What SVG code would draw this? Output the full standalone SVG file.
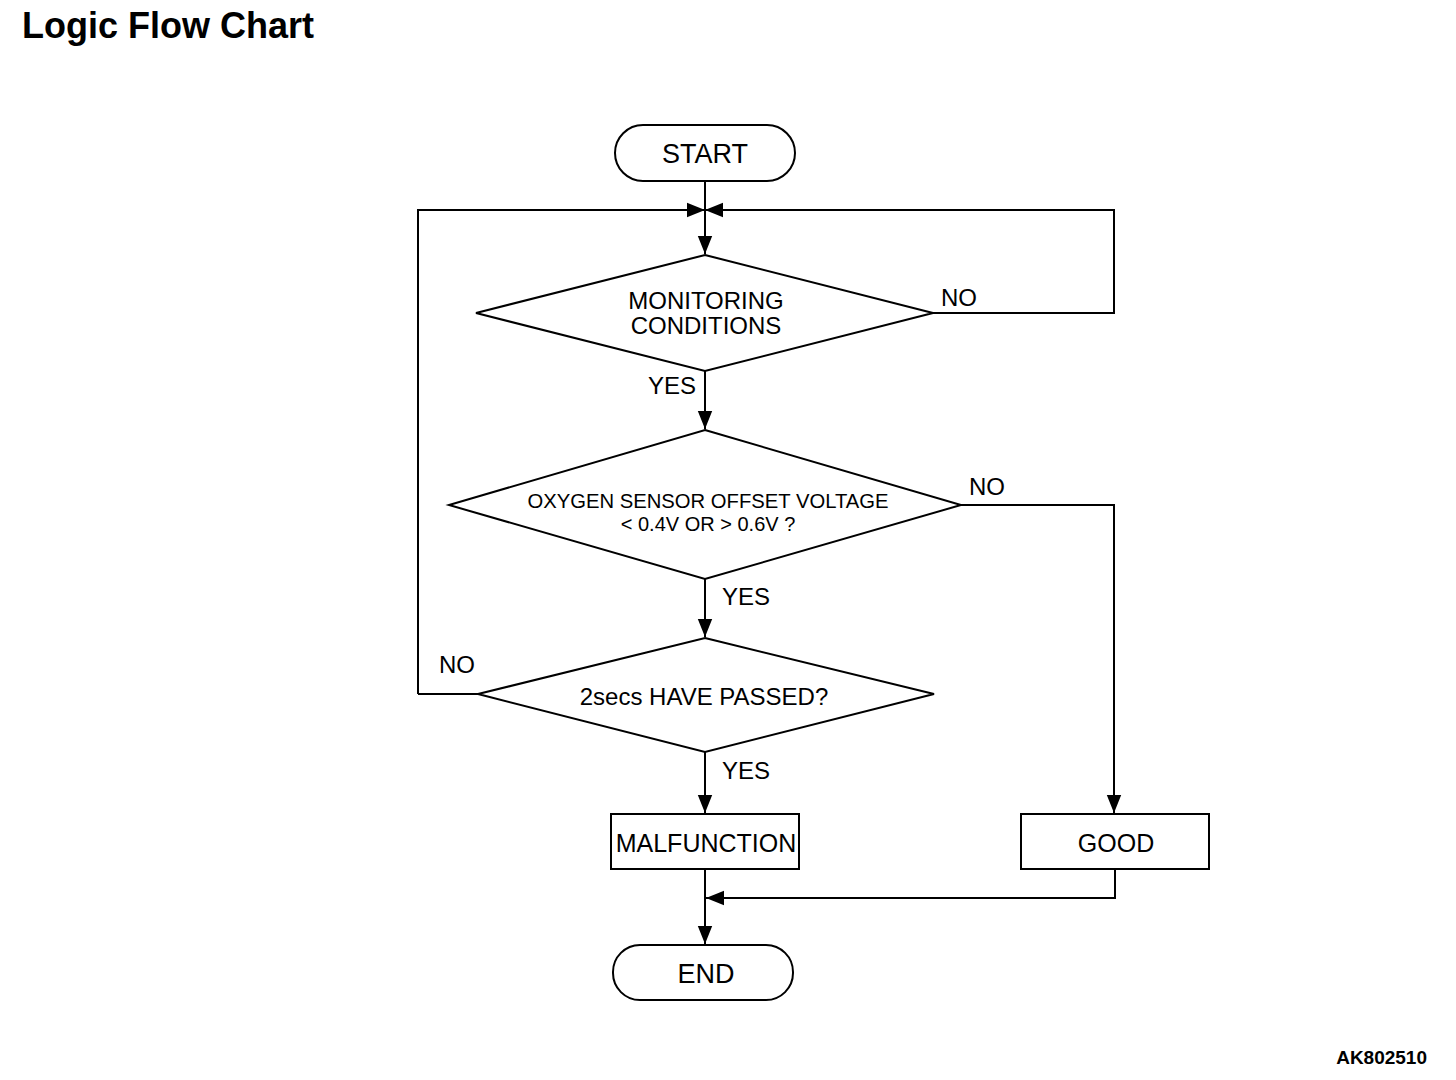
<svg xmlns="http://www.w3.org/2000/svg" width="1456" height="1080" viewBox="0 0 1456 1080">
<defs>
<marker id="ah" viewBox="0 0 10 10" refX="10" refY="5" markerWidth="18" markerHeight="18" markerUnits="userSpaceOnUse" orient="auto">
<path d="M0,1 L10,5 L0,9 Z" fill="#000"/>
</marker>
<style>
.s{fill:#fff;stroke:#000;stroke-width:2}
.c{fill:none;stroke:#000;stroke-width:2}
.t{font-family:"Liberation Sans",Arial,sans-serif;fill:#000;text-anchor:middle}
.l{font-family:"Liberation Sans",Arial,sans-serif;fill:#000;font-size:24px}
</style>
</defs>
<rect width="1456" height="1080" fill="#fff"/>
<text x="22" y="38" font-family="Liberation Sans,Arial,sans-serif" font-weight="bold" font-size="36">Logic Flow Chart</text>
<text x="1427" y="1064" font-family="Liberation Sans,Arial,sans-serif" font-weight="bold" font-size="19" text-anchor="end">AK802510</text>
<g id="connectors">
<path class="c" d="M705,181 V254" marker-end="url(#ah)"/>
<path class="c" d="M418,694 H478 M418,694 V210 H705" marker-end="url(#ah)"/>
<path class="c" d="M933,313 H1114 V210 H705" marker-end="url(#ah)"/>
<path class="c" d="M705,371 V429" marker-end="url(#ah)"/>
<path class="c" d="M961,505 H1114 V813" marker-end="url(#ah)"/>
<path class="c" d="M705,579 V637" marker-end="url(#ah)"/>
<path class="c" d="M705,752 V813" marker-end="url(#ah)"/>
<path class="c" d="M705,869 V944" marker-end="url(#ah)"/>
<path class="c" d="M1115,869 V898 H706" marker-end="url(#ah)"/>
</g>
<g id="start"><rect class="s" x="615" y="125" width="180" height="56" rx="28"/><text class="t" x="705" y="163" font-size="27">START</text></g>
<g id="monitoring"><polygon class="s" points="705,255 933,313 705,371 476,313"/><text class="t" x="706" y="309" font-size="24">MONITORING</text><text class="t" x="706" y="334" font-size="24">CONDITIONS</text></g>
<g id="oxygen"><polygon class="s" points="705,430 961,505 705,579 449,505"/><text class="t" x="708" y="508" font-size="20" textLength="361" lengthAdjust="spacingAndGlyphs">OXYGEN SENSOR OFFSET VOLTAGE</text><text class="t" x="708" y="531" font-size="20">&lt; 0.4V OR &gt; 0.6V ?</text></g>
<g id="passed"><polygon class="s" points="705,638 934,694 705,752 478,694"/><text class="t" x="704" y="705" font-size="24">2secs HAVE PASSED?</text></g>
<g id="malfunction"><rect class="s" x="611" y="814" width="188" height="55"/><text class="t" x="706" y="852" font-size="25">MALFUNCTION</text></g>
<g id="good"><rect class="s" x="1021" y="814" width="188" height="55"/><text class="t" x="1116" y="852" font-size="25">GOOD</text></g>
<g id="end"><rect class="s" x="613" y="945" width="180" height="55" rx="27"/><text class="t" x="706" y="983" font-size="27">END</text></g>
<g id="labels">
<text class="l" x="941" y="306">NO</text>
<text class="l" x="648" y="394">YES</text>
<text class="l" x="969" y="495">NO</text>
<text class="l" x="722" y="605">YES</text>
<text class="l" x="439" y="673">NO</text>
<text class="l" x="722" y="779">YES</text>
</g>
</svg>
